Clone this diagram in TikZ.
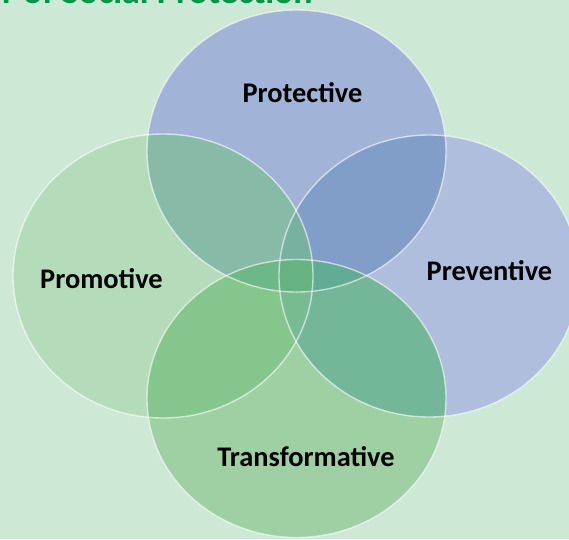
\documentclass[tikz,border=0pt]{standalone}
\usepackage{fontspec}
\setmainfont{Carlito}
\definecolor{bgc}{HTML}{CDE8D5}
\definecolor{cT}{HTML}{A1B3D6}
\definecolor{cR}{HTML}{AFBEDC}
\definecolor{cL}{HTML}{B5DCBA}
\definecolor{cB}{HTML}{9ED0A4}
\definecolor{cTL}{HTML}{88BAA8}
\definecolor{cTR}{HTML}{809EC8}
\definecolor{cBL}{HTML}{85C68C}
\definecolor{cBR}{HTML}{74B698}
\definecolor{cTLR}{HTML}{79B1A1}
\definecolor{cBLR}{HTML}{78BA91}
\definecolor{cTBL}{HTML}{6CB886}
\definecolor{cTBR}{HTML}{62AB94}
\definecolor{cAll}{HTML}{66B282}
\definecolor{titlec}{HTML}{00964A}
\tikzset{
  rT/.style={x radius=149.5, y radius=141},
  rL/.style={x radius=150, y radius=142},
  rR/.style={x radius=150, y radius=141},
  rB/.style={x radius=149.5, y radius=139},
  lbl/.style={font=\fontsize{28.4}{32}\selectfont\bfseries, text=black, inner sep=0pt, anchor=base},
  rim/.style={draw=white, draw opacity=0.6, line width=1.4pt},
}
\begin{document}
\begin{tikzpicture}[x=1pt,y=-1pt]
\useasboundingbox (0,0) rectangle (569,539);
\fill[bgc] (0,0) rectangle (569,539);
\clip (0,0) rectangle (569,539);
\coordinate (oT) at (296.5,151);
\coordinate (oL) at (163,276);
\coordinate (oR) at (429,276);
\coordinate (oB) at (296.5,398.5);
% base fills
\fill[cT] (oT) ellipse [rT];
\fill[cR] (oR) ellipse [rR];
\fill[cL] (oL) ellipse [rL];
\fill[cB] (oB) ellipse [rB];
% pairs
\begin{scope}\clip (oT) ellipse [rT]; \fill[cTL] (oL) ellipse [rL]; \end{scope}
\begin{scope}\clip (oT) ellipse [rT]; \fill[cTR] (oR) ellipse [rR]; \end{scope}
\begin{scope}\clip (oB) ellipse [rB]; \fill[cBL] (oL) ellipse [rL]; \end{scope}
\begin{scope}\clip (oB) ellipse [rB]; \fill[cBR] (oR) ellipse [rR]; \end{scope}
% triples
\begin{scope}\clip (oT) ellipse [rT]; \clip (oL) ellipse [rL]; \fill[cTLR] (oR) ellipse [rR]; \end{scope}
\begin{scope}\clip (oB) ellipse [rB]; \clip (oL) ellipse [rL]; \fill[cBLR] (oR) ellipse [rR]; \end{scope}
\begin{scope}\clip (oT) ellipse [rT]; \clip (oB) ellipse [rB]; \fill[cTBL] (oL) ellipse [rL]; \end{scope}
\begin{scope}\clip (oT) ellipse [rT]; \clip (oB) ellipse [rB]; \fill[cTBR] (oR) ellipse [rR]; \end{scope}
% all four
\begin{scope}\clip (oT) ellipse [rT]; \clip (oB) ellipse [rB]; \clip (oL) ellipse [rL]; \fill[cAll] (oR) ellipse [rR]; \end{scope}
% rims
\path[rim] (oT) ellipse [rT];
\path[rim] (oR) ellipse [rR];
\path[rim] (oL) ellipse [rL];
\path[rim] (oB) ellipse [rB];
% labels
\node[lbl] (protective) at (302.5,102) {Protective};
\node[lbl] (promotive) at (101.5,288) {Promotive};
\node[lbl] (preventive) at (489.5,280) {Preventive};
\node[lbl] (transformative) at (306,466) {Transformative};
% title (cut off at the top edge, as in the reference)
\node[font=\fontsize{36}{40}\selectfont\bfseries, text=titlec, inner sep=0pt, anchor=base east] (title) at (313,3) {r of Social Protection};
\end{tikzpicture}
\end{document}
